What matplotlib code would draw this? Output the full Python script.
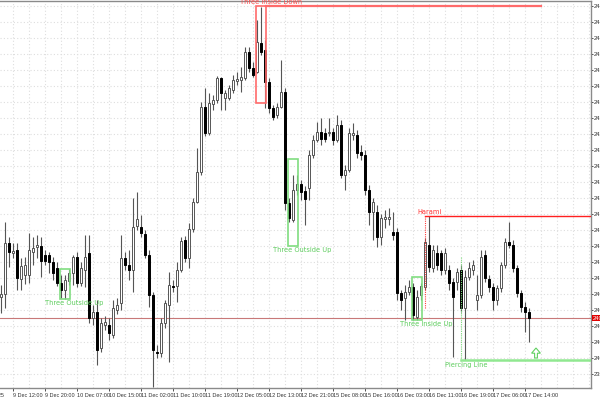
import matplotlib
matplotlib.use('Agg')
import matplotlib.pyplot as plt
from matplotlib.patches import Rectangle, FancyArrow

# H1 candles
opens = [2407.6, 2408.0, 2414.4, 2413.1, 2413.5, 2409.9, 2410.4, 2410.4, 2413.3, 2413.9,
         2414.0, 2412.9, 2412.9, 2412.0, 2411.3, 2409.4, 2408.5, 2409.6, 2410.6, 2412.6,
         2409.4, 2411.0, 2413.1, 2405.0, 2405.8, 2401.3, 2404.1, 2404.1, 2402.9, 2406.0,
         2406.9, 2412.5, 2411.6, 2411.0, 2416.5, 2416.4, 2415.5, 2412.9, 2407.9, 2400.8,
         2400.6, 2404.4, 2406.6, 2409.0, 2409.0, 2411.0, 2414.8, 2412.5, 2416.1, 2419.5,
         2423.3, 2431.4, 2428.1, 2431.8, 2432.3, 2435.0, 2432.5, 2432.5, 2433.5, 2434.6,
         2434.8, 2435.0, 2438.3, 2436.3, 2435.8, 2439.4, 2438.5, 2434.5, 2431.3, 2430.4,
         2431.4, 2433.3, 2419.4, 2417.3, 2421.0, 2421.8, 2420.9, 2421.3, 2425.4, 2427.3,
         2428.3, 2428.1, 2428.1, 2428.3, 2427.3, 2429.1, 2422.9, 2423.5, 2427.9, 2427.9,
         2425.8, 2425.4, 2421.0, 2418.3, 2418.3, 2415.1, 2417.4, 2417.4, 2415.8, 2415.8,
         2408.1, 2407.5, 2408.3, 2408.9, 2405.1, 2407.9, 2408.9, 2414.1, 2411.3, 2413.1,
         2413.1, 2411.0, 2411.0, 2409.5, 2409.5, 2411.0, 2406.3, 2410.1, 2411.0, 2407.3,
         2407.9, 2412.9, 2409.9, 2408.9, 2407.3, 2408.8, 2411.6, 2414.5, 2414.1, 2411.3,
         2408.1, 2406.4, 2405.8]
highs = [2409.1, 2417.0, 2415.1, 2414.4, 2414.4, 2412.5, 2412.6, 2415.6, 2415.1, 2415.4,
         2415.1, 2413.5, 2413.3, 2412.6, 2412.0, 2410.4, 2410.4, 2411.1, 2412.9, 2413.3,
         2412.0, 2415.4, 2415.4, 2406.6, 2407.3, 2405.0, 2405.3, 2405.0, 2407.3, 2407.5,
         2415.4, 2413.3, 2413.5, 2420.0, 2420.8, 2417.9, 2416.0, 2413.5, 2408.3, 2401.6,
         2405.0, 2407.3, 2410.8, 2409.8, 2412.0, 2415.1, 2415.3, 2416.9, 2420.0, 2426.3,
         2432.0, 2433.8, 2433.1, 2432.9, 2435.3, 2435.1, 2433.5, 2434.1, 2435.4, 2435.8,
         2436.4, 2438.9, 2438.9, 2437.0, 2442.3, 2443.9, 2439.8, 2435.0, 2431.6, 2431.9,
         2437.3, 2433.8, 2420.0, 2422.9, 2422.9, 2422.3, 2421.5, 2426.0, 2427.9, 2429.5,
         2430.0, 2428.8, 2430.0, 2428.8, 2430.4, 2429.8, 2424.1, 2428.8, 2429.4, 2428.5,
         2426.6, 2426.0, 2421.6, 2420.0, 2419.1, 2418.0, 2418.5, 2418.8, 2418.3, 2416.3,
         2408.5, 2409.1, 2409.8, 2409.4, 2408.5, 2409.4, 2415.0, 2417.8, 2414.1, 2414.1,
         2413.5, 2413.8, 2411.6, 2410.0, 2411.3, 2411.6, 2411.0, 2412.0, 2412.3, 2410.4,
         2413.5, 2413.5, 2410.4, 2409.4, 2409.1, 2412.0, 2415.0, 2417.0, 2414.8, 2411.6,
         2408.5, 2407.0, 2406.3]
lows = [2405.6, 2406.3, 2411.4, 2412.5, 2408.5, 2408.5, 2409.3, 2409.4, 2411.6, 2412.5,
        2410.1, 2411.6, 2410.6, 2409.8, 2409.0, 2407.5, 2407.4, 2409.1, 2409.1, 2408.9,
        2409.0, 2408.9, 2404.4, 2404.1, 2399.1, 2400.8, 2403.5, 2402.3, 2402.5, 2405.5,
        2406.0, 2411.0, 2409.8, 2408.3, 2416.0, 2415.1, 2412.5, 2406.4, 2396.4, 2400.0,
        2400.1, 2403.8, 2399.5, 2408.3, 2407.0, 2410.8, 2412.0, 2411.3, 2415.8, 2419.4,
        2422.9, 2427.8, 2427.9, 2431.0, 2431.9, 2431.0, 2431.0, 2432.3, 2433.1, 2434.1,
        2433.3, 2434.8, 2435.8, 2435.1, 2435.6, 2437.9, 2431.3, 2430.6, 2429.8, 2430.0,
        2431.3, 2418.5, 2417.0, 2417.0, 2420.4, 2419.8, 2416.6, 2419.8, 2425.0, 2427.0,
        2426.6, 2427.0, 2427.8, 2426.6, 2427.0, 2422.5, 2421.0, 2423.3, 2427.3, 2425.0,
        2424.8, 2420.4, 2416.6, 2414.8, 2413.9, 2414.1, 2416.3, 2416.6, 2414.8, 2407.3,
        2406.0, 2404.8, 2407.9, 2404.8, 2404.8, 2407.3, 2408.5, 2410.8, 2410.8, 2411.0,
        2410.4, 2410.5, 2408.5, 2400.1, 2408.5, 2405.8, 2399.8, 2409.8, 2410.4, 2406.0,
        2407.5, 2409.5, 2408.3, 2406.0, 2406.6, 2408.3, 2411.3, 2413.8, 2410.8, 2407.6,
        2405.8, 2403.3, 2402.0]
closes = [2408.0, 2414.4, 2413.3, 2413.4, 2410.0, 2411.5, 2411.6, 2413.5, 2413.8, 2414.1,
          2412.1, 2412.1, 2412.0, 2410.6, 2409.4, 2408.5, 2409.8, 2410.6, 2412.6, 2409.4,
          2411.3, 2412.6, 2405.0, 2405.8, 2401.0, 2404.4, 2404.5, 2403.1, 2406.3, 2406.6,
          2412.5, 2411.6, 2411.0, 2416.4, 2417.4, 2415.6, 2412.9, 2407.9, 2401.0, 2400.6,
          2404.4, 2406.9, 2409.1, 2408.9, 2411.0, 2414.6, 2412.5, 2416.1, 2419.5, 2423.3,
          2431.4, 2428.1, 2431.9, 2432.3, 2435.0, 2433.1, 2433.1, 2433.8, 2434.8, 2434.9,
          2435.1, 2438.3, 2436.3, 2435.4, 2439.5, 2438.3, 2434.5, 2431.3, 2430.1, 2431.4,
          2433.3, 2419.4, 2417.5, 2421.0, 2421.8, 2420.8, 2419.9, 2425.4, 2427.3, 2428.3,
          2427.4, 2427.4, 2428.3, 2427.3, 2429.1, 2422.9, 2423.5, 2428.1, 2428.1, 2425.6,
          2425.4, 2421.0, 2418.3, 2419.5, 2415.1, 2417.5, 2417.6, 2417.6, 2415.4, 2408.1,
          2407.3, 2408.3, 2408.9, 2405.4, 2407.6, 2409.0, 2414.5, 2411.4, 2413.5, 2411.6,
          2411.0, 2413.1, 2409.4, 2407.6, 2410.8, 2406.3, 2410.1, 2411.3, 2411.6, 2407.9,
          2412.6, 2410.0, 2408.9, 2407.3, 2408.8, 2411.6, 2414.5, 2414.1, 2411.3, 2408.1,
          2406.4, 2405.8, 2405.0]

time_labels = ['9 Dec 12:00', '9 Dec 20:00', '10 Dec 07:00', '10 Dec 15:00', '11 Dec 02:00',
               '11 Dec 10:00', '11 Dec 19:00', '12 Dec 05:00', '12 Dec 13:00', '12 Dec 21:00',
               '15 Dec 08:00', '15 Dec 16:00', '16 Dec 03:00', '16 Dec 11:00', '16 Dec 19:00',
               '17 Dec 06:00', '17 Dec 14:00']
first_label = '9 Dec 2025'
current_price = 2405.0

# boxed patterns
box_names = ['Three Outside Up', 'Three Inside Down', 'Three Outside Up', 'Three Inside Up']
box_first = [15, 64, 72, 103]
box_last = [17, 66, 74, 105]
box_top = [2411.1, 2444.0, 2424.9, 2410.1]
box_bottom = [2407.4, 2431.9, 2414.0, 2404.75]
box_bullish = [True, False, True, True]

# signal lines: name, bar, from, to (level)
sig_names = ['Harami', 'Piercing Line']
sig_bar = [106, 115]
sig_from = [2406.25, 2412.6]
sig_level = [2417.75, 2399.75]
sig_bullish = [False, True]

RED = '#ff6b6b'
GREEN = '#80dd80'
AXFONT = ['Liberation Sans', 'DejaVu Sans']

fig = plt.figure(figsize=(6, 4), dpi=100)
ax = fig.add_axes([0, 12 / 400, 591 / 600, 387 / 400])
ax.set_xlim(-0.25, 147.5)
ax.set_ylim(2396.25, 2444.625)

# grid
for gx in range(3, 148, 4):
    ax.axvline(gx, color='#dedede', lw=0.8, ls=(0, (1, 2)), zorder=0)
yticks = list(range(2398, 2446, 2))
for gy in yticks:
    ax.axhline(gy, color='#dedede', lw=0.8, ls=(0, (1, 2)), zorder=0)

# candles
n = len(closes)
idx = list(range(n))
ax.vlines(idx, lows, highs, color='#555555', lw=0.8, zorder=2)
for i in idx:
    o, c = opens[i], closes[i]
    bottom = min(o, c)
    h = max(abs(c - o), 0.06)
    if c >= o:
        ax.bar(i, h, bottom=bottom, width=0.62, color='white', edgecolor='#555555', lw=0.7, zorder=3)
    else:
        ax.bar(i, h, bottom=bottom, width=0.62, color='black', edgecolor='black', lw=0.7, zorder=3)

# current price line
ax.axhline(current_price, color='#c87878', lw=0.8, zorder=1)

# pattern boxes
for name, f, l, top, bot, bull in zip(box_names, box_first, box_last, box_top, box_bottom, box_bullish):
    col = GREEN if bull else RED
    ax.add_patch(Rectangle((f - 0.3, bot), l - f + 0.6, top - bot, fill=False,
                           edgecolor=col, lw=1.2, zorder=4))
    cx = (f + l) / 2 + 2.4
    if bull:
        ax.text(cx, bot - 0.15, name, color='#5ccc5c', fontsize=4.8, ha='center', va='top', zorder=5)
    else:
        ax.text(cx, top + 0.1, name, color='#ff4a4a', fontsize=4.8, ha='center', va='bottom', zorder=5)
        ax.plot([l + 0.3, 135], [top, top], color=col, lw=1.6, zorder=4)

# signal lines
for name, b, y0, lvl, bull in zip(sig_names, sig_bar, sig_from, sig_level, sig_bullish):
    if bull:
        ax.plot([b, b], [y0, lvl], color=GREEN, lw=0.8, ls=(0, (1, 1)), zorder=4)
        ax.plot([b, 147.5], [lvl, lvl], color='#90e890', lw=1.8, zorder=4)
        ax.text(b + 1.2, lvl - 0.3, name, color='#5ccc5c', fontsize=4.8, ha='center', va='top', zorder=5)
    else:
        ax.plot([b, b], [y0, lvl], color='#ff4040', lw=0.8, ls=(0, (1, 1)), zorder=4)
        ax.plot([b, 147.5], [lvl, lvl], color='#ff2020', lw=1.0, zorder=4)
        ax.text(b + 1.2, lvl + 0.15, name, color='#ff3030', fontsize=4.8, ha='center', va='bottom', zorder=5)

# buy arrow
ax.add_patch(FancyArrow(133.75, 2400.0, 0, 1.25, width=0.7, head_width=2.2, head_length=0.65,
                        length_includes_head=True, facecolor='white', edgecolor='#60d060', lw=0.8, zorder=5))

# axes styling
for s in ['top', 'right', 'bottom']:
    ax.spines[s].set_color('#8a8a8a')
    ax.spines[s].set_linewidth(1.0)
ax.spines['left'].set_visible(False)

ax.yaxis.tick_right()
ax.set_yticks(yticks)
ax.set_yticklabels(['%.2f' % v for v in yticks], family=AXFONT)
ax.tick_params(axis='y', length=1.5, width=0.6, pad=0.5, labelsize=4.2, colors='#333333')

xt = [3 + 8 * k for k in range(len(time_labels))]
ax.set_xticks(xt)
ax.set_xticklabels(time_labels, family=AXFONT)
ax.tick_params(axis='x', length=2, width=0.6, pad=1.5, labelsize=4.0, colors='#333333')
for lab in ax.get_xticklabels():
    lab.set_ha('left')
ax.text(0.75, -0.012, first_label, transform=ax.get_xaxis_transform(), fontsize=4.0,
        family=AXFONT, color='#333333', ha='right', va='top', clip_on=False)

ax.text(1.003, current_price, '%.2f' % current_price, transform=ax.get_yaxis_transform(),
        fontsize=4.2, family=AXFONT, color='white', ha='left', va='center', clip_on=False,
        bbox=dict(boxstyle='square,pad=0.15', facecolor='#e00000', edgecolor='none'))

fig.savefig('out.png', dpi=100)
